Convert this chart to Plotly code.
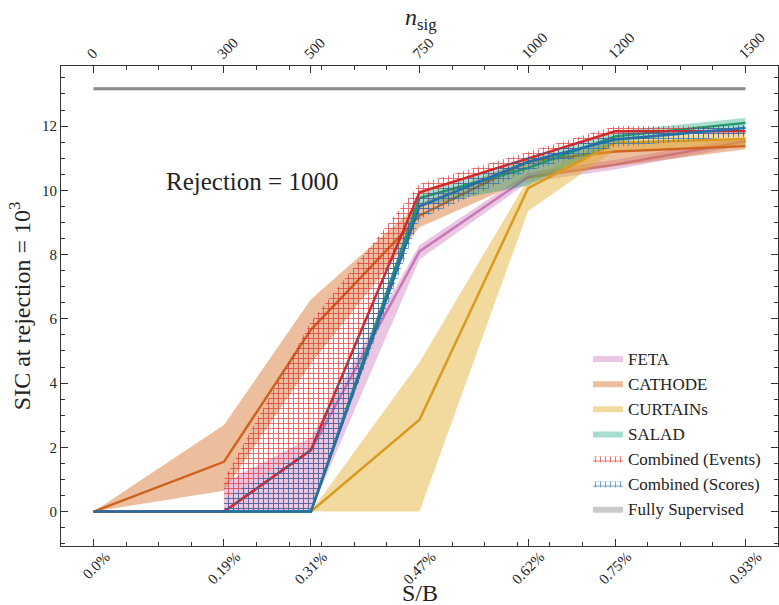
import plotly.graph_objects as go

# Signal injection points (number of injected signal events) and matching S/B labels
n_sig = [0, 300, 500, 750, 1000, 1200, 1500]
sb_labels = ["0.0%", "0.19%", "0.31%", "0.47%", "0.62%", "0.75%", "0.93%"]
nsig_labels = ["0", "300", "500", "750", "1000", "1200", "1500"]

# SIC at background rejection 1000: median and band (lower / upper) per method.
# None marks points where no band is drawn.
feta_mid = [0, 0, 1.9, 8.1, 10.41, 10.8, 11.53]
feta_lo = [None, 0, 0, 7.85, 10.25, 10.65, 11.4]
feta_hi = [None, 0.9, 2.3, 8.3, 10.55, 10.95, 11.65]

cathode_mid = [0, 1.55, 5.66, 9.21, 10.9, 11.21, 11.38]
cathode_lo = [0, 0.65, 4.6, 8.85, 10.35, 10.75, 11.28]
cathode_hi = [0, 2.7, 6.6, 9.6, 11.0, 11.5, 11.55]

curtains_mid = [0, 0, 0, 2.86, 10.07, 11.48, 11.6]
curtains_lo = [0, 0, 0, 0, 9.36, 11.25, 11.4]
curtains_hi = [0, 0, 0, 4.65, 10.35, 11.65, 11.8]

salad_mid = [0, 0, 0, 9.76, 10.7, 11.68, 12.1]
salad_lo = [0, 0, 0, 9.5, 10.15, 11.5, 11.95]
salad_hi = [0, 0, 0, 9.95, 10.9, 11.85, 12.25]

events_mid = [0, 0, 1.92, 9.94, 10.99, 11.84, 11.84]
events_lo = [None, 0, 0, 9.3, 10.75, 11.6, 11.65]
events_hi = [None, 1.0, 5.9, 10.2, 11.2, 12.0, 12.0]

scores_mid = [0, 0, 0, 9.5, 10.89, 11.58, 11.94]
scores_lo = [None, 0, 0, 9.1, 10.6, 11.35, 11.7]
scores_hi = [None, 0.4, 2.0, 9.8, 11.05, 11.75, 12.05]

supervised_mid = [13.16, 13.16, 13.16, 13.16, 13.16, 13.16, 13.16]
supervised_lo = [13.12, 13.12, 13.12, 13.12, 13.12, 13.12, 13.12]
supervised_hi = [13.2, 13.2, 13.2, 13.2, 13.2, 13.2, 13.2]

SERIF = "Liberation Serif, DejaVu Serif, serif"
INK = "#222"
FRAME = "#333"

series = [
    ("FETA", feta_lo, feta_hi, feta_mid, "#c878b6", "rgba(204,120,188,0.42)", None),
    ("CATHODE", cathode_lo, cathode_hi, cathode_mid, "#cf6420", "rgba(213,110,40,0.45)", None),
    ("CURTAINs", curtains_lo, curtains_hi, curtains_mid, "#d99a1e", "rgba(226,170,40,0.45)", None),
    ("SALAD", salad_lo, salad_hi, salad_mid, "#1f9a6c", "rgba(2,158,115,0.35)", None),
    ("Combined (Events)", events_lo, events_hi, events_mid, "#d62728", None, "rgba(214,39,40,0.8)"),
    ("Combined (Scores)", scores_lo, scores_hi, scores_mid, "#2370a8", None, "rgba(31,110,180,0.8)"),
    ("Fully Supervised", supervised_lo, supervised_hi, supervised_mid, "#8a8a8a", "rgba(150,150,150,0.5)", None),
]

fig = go.Figure()

for name, lo, hi, mid, line_col, fill_col, hatch_col in series:
    keep = [i for i in range(len(n_sig)) if lo[i] is not None]
    bx = [n_sig[i] for i in keep]
    fig.add_trace(go.Scatter(
        x=bx, y=[lo[i] for i in keep], mode="lines", line=dict(width=0, color=line_col),
        showlegend=False, hoverinfo="skip", legendgroup=name,
    ))
    band = dict(
        x=bx, y=[hi[i] for i in keep], mode="lines", fill="tonexty",
        line=dict(width=0, color=line_col),
        name=name, legendgroup=name, hoverinfo="skip",
    )
    if hatch_col is not None:
        band["fillcolor"] = "rgba(0,0,0,0)"
        band["fillpattern"] = dict(shape="+", fgcolor=hatch_col, bgcolor="rgba(255,255,255,0)",
                                   size=5, solidity=0.3, fillmode="replace")
    else:
        band["fillcolor"] = fill_col
    fig.add_trace(go.Scatter(**band))
    fig.add_trace(go.Scatter(
        x=n_sig, y=mid, mode="lines",
        line=dict(width=3 if name == "Fully Supervised" else 2.5, color=line_col),
        showlegend=False, legendgroup=name, name=name,
    ))

# placeholder trace so the top n_sig axis is drawn
fig.add_trace(go.Scatter(x=n_sig, y=[None] * len(n_sig), xaxis="x2", showlegend=False, hoverinfo="skip"))

tick_font = dict(family=SERIF, size=15, color=INK)

fig.update_layout(
    width=779, height=605,
    margin=dict(l=61, r=1, t=66, b=59),
    paper_bgcolor="white", plot_bgcolor="white",
    showlegend=True,
    legend=dict(
        x=0.735, y=0.428, xanchor="left", yanchor="top",
        font=dict(family=SERIF, size=17, color=INK),
        bgcolor="rgba(255,255,255,0)", tracegroupgap=0,
    ),
    xaxis=dict(
        range=[-75, 1575], tickmode="array", tickvals=n_sig, ticktext=sb_labels,
        tickangle=-45, ticks="inside", ticklen=7, tickcolor=FRAME,
        showline=True, linecolor=FRAME, linewidth=1, mirror="ticks",
        showgrid=False, zeroline=False, tickfont=tick_font,
        ticklabelshift=12, ticklabelstandoff=-5,
        minor=dict(tickmode="linear", tick0=0, dtick=75, ticks="inside", ticklen=4, tickcolor=FRAME),
    ),
    xaxis2=dict(
        range=[-75, 1575], overlaying="x", side="top", tickmode="array",
        tickvals=n_sig, ticktext=nsig_labels, tickangle=-45, ticks="",
        showgrid=False, zeroline=False, tickfont=tick_font, ticklabelshift=-6,
    ),
    yaxis=dict(
        range=[-1.07, 13.87], tickmode="array", tickvals=[0, 2, 4, 6, 8, 10, 12],
        ticks="inside", ticklen=7, tickcolor=FRAME,
        showline=True, linecolor=FRAME, linewidth=1, mirror="ticks",
        showgrid=False, zeroline=False, tickfont=tick_font,
        minor=dict(tickmode="linear", tick0=0, dtick=0.5, ticks="inside", ticklen=4, tickcolor=FRAME),
    ),
)

fig.add_annotation(x=364, y=10.27, xref="x", yref="y", text="Rejection = 1000",
                   showarrow=False, font=dict(family=SERIF, size=25, color=INK))
fig.add_annotation(x=0.5, y=-0.097, xref="paper", yref="paper", xanchor="center", yanchor="middle",
                   text="S/B", showarrow=False, font=dict(family=SERIF, size=24, color=INK))
fig.add_annotation(x=0.502, y=1.0, xref="paper", yref="paper", xanchor="center", yanchor="middle",
                   yshift=47, text="<i>n</i><sub>sig</sub>",
                   showarrow=False, font=dict(family=SERIF, size=24, color=INK))
fig.add_annotation(x=-0.057, y=0.5, xref="paper", yref="paper", xanchor="center", yanchor="middle",
                   textangle=-90, text="SIC at rejection = 10<sup>3</sup>",
                   showarrow=False, font=dict(family=SERIF, size=24, color=INK))

fig.write_html("out.html")
